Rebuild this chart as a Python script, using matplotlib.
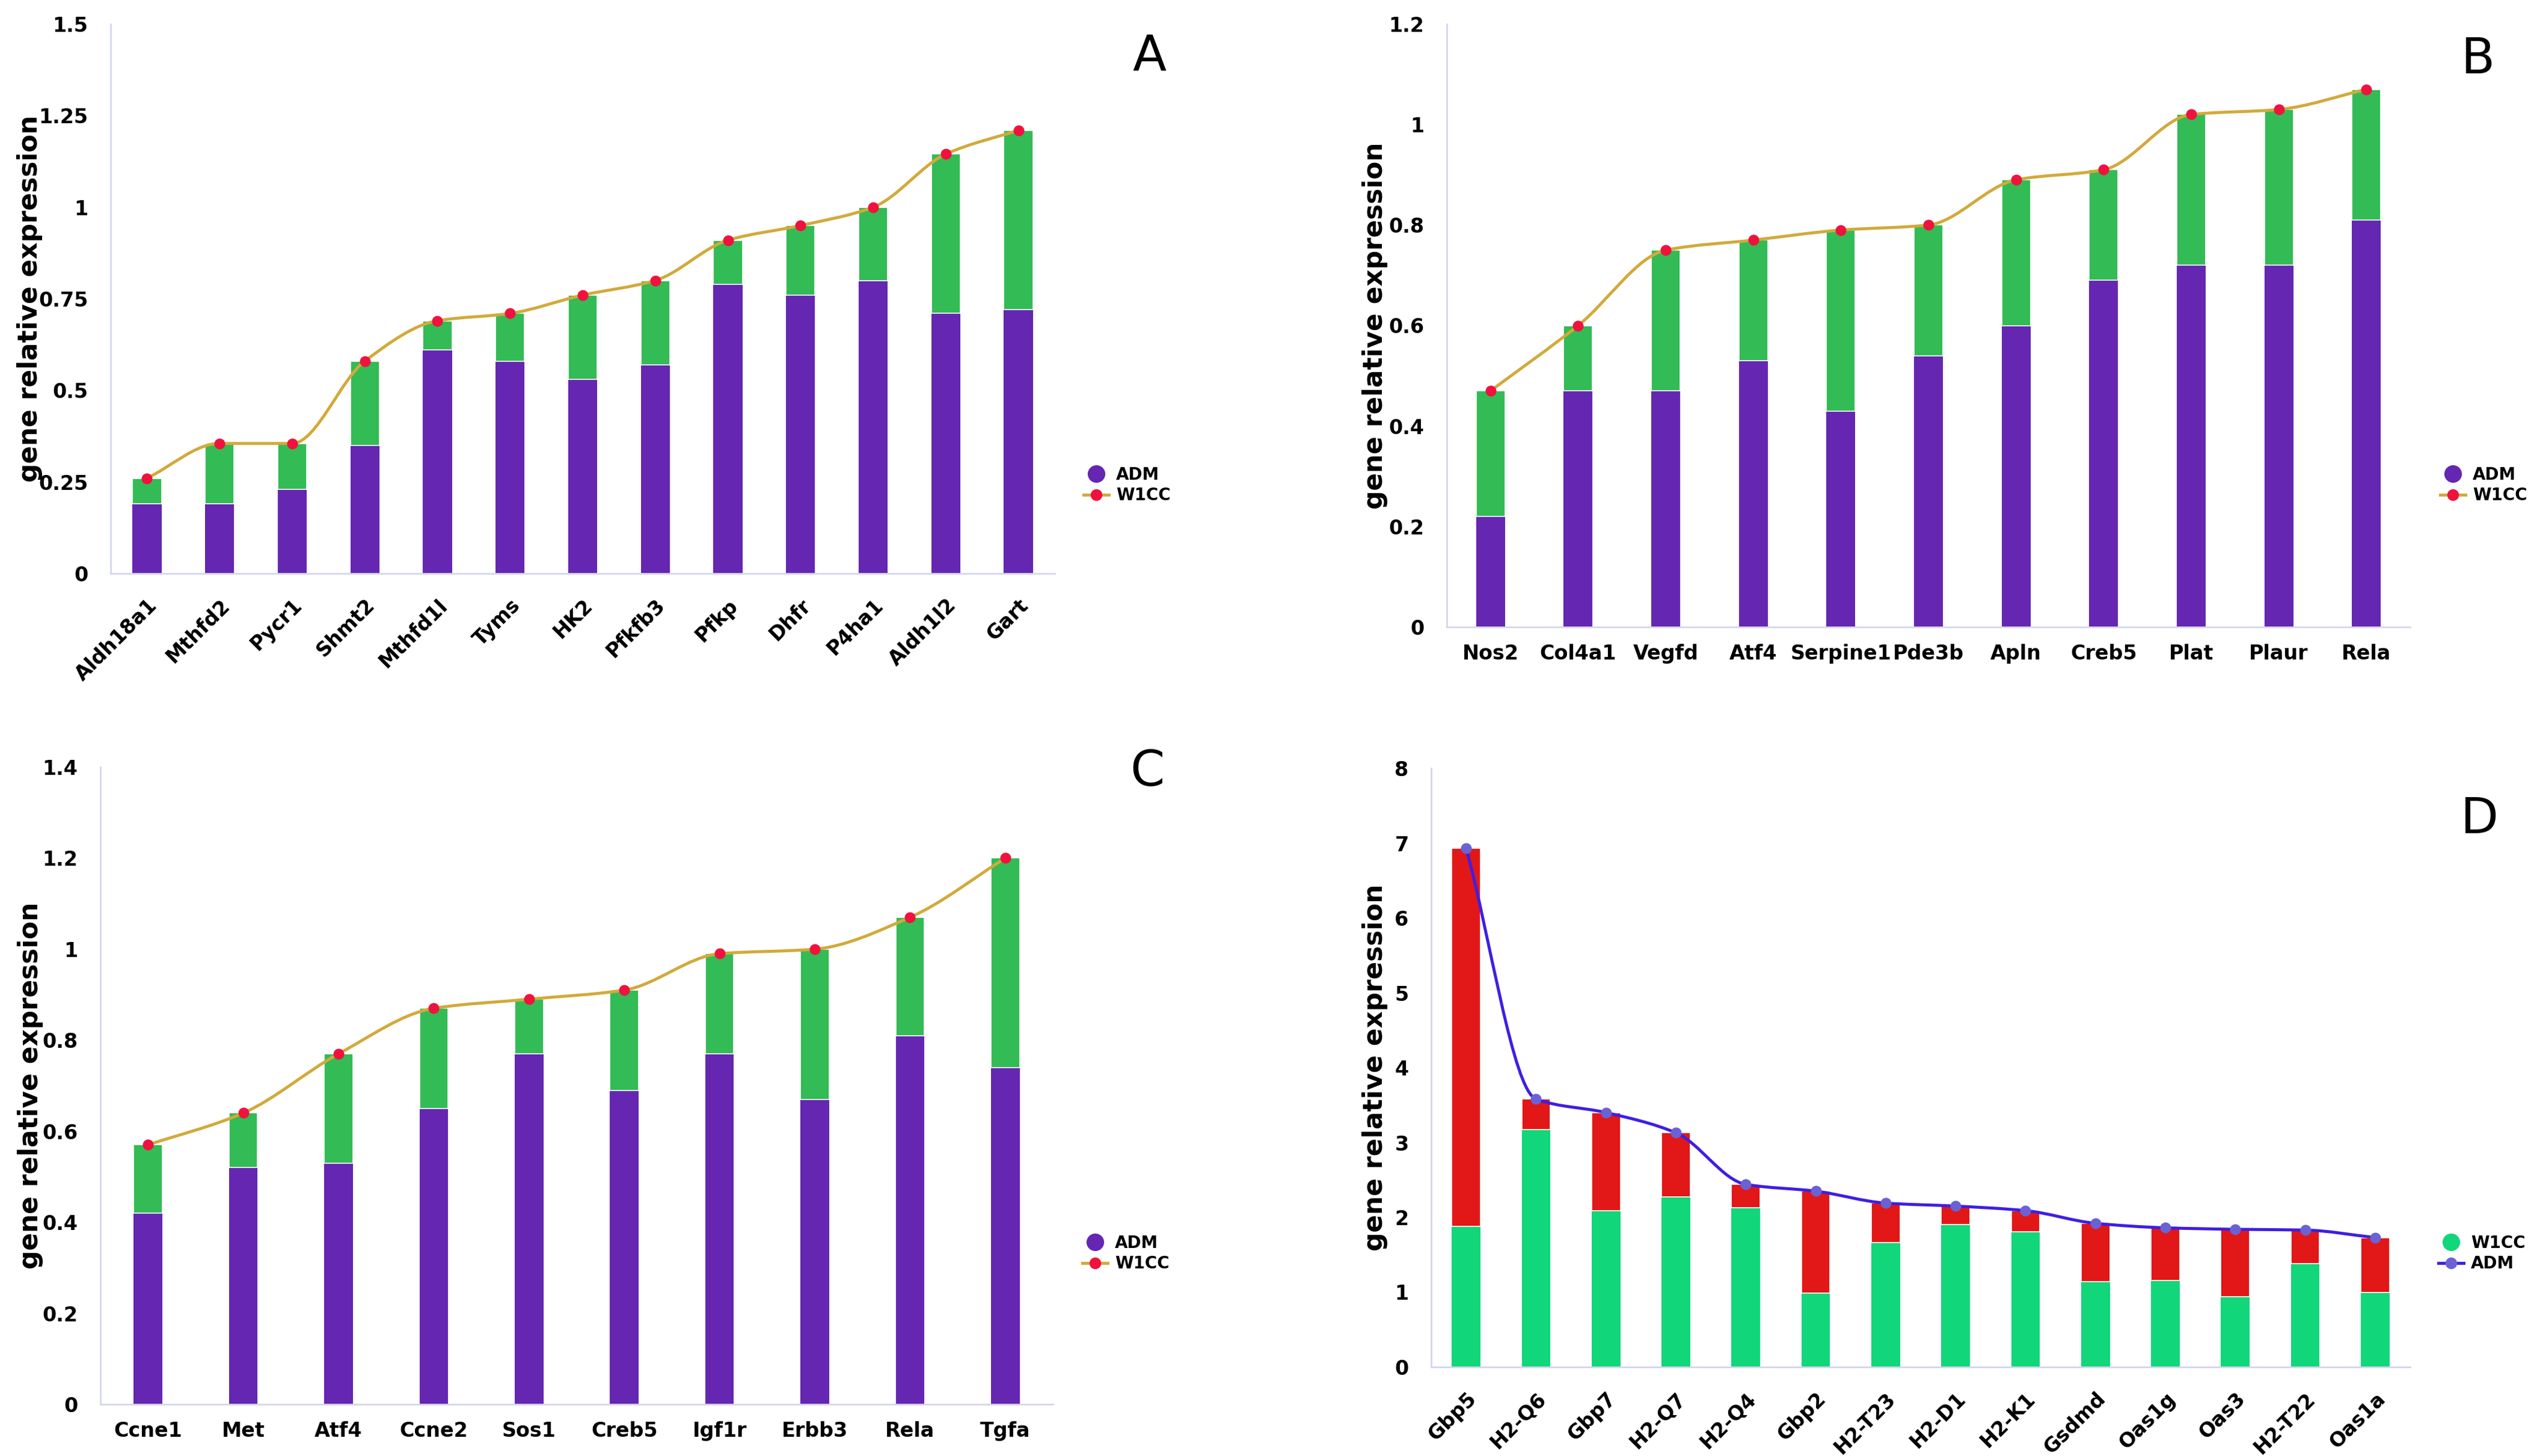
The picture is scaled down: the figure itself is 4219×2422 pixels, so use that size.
import numpy as np
import matplotlib
matplotlib.use('Agg')
import matplotlib.pyplot as plt
from matplotlib.path import Path
from matplotlib.patches import PathPatch
from matplotlib.lines import Line2D

plt.rcParams['font.family'] = 'DejaVu Sans'
plt.rcParams['font.weight'] = 'bold'

W, H = 4219, 2422

# panel A
genes_a = ['Aldh18a1', 'Mthfd2', 'Pycr1', 'Shmt2', 'Mthfd1l', 'Tyms', 'HK2',
           'Pfkfb3', 'Pfkp', 'Dhfr', 'P4ha1', 'Aldh1l2', 'Gart']
adm_a = [0.19, 0.19, 0.23, 0.35, 0.61, 0.58, 0.53, 0.57, 0.79, 0.76, 0.80, 0.71, 0.72]
w1cc_a = [0.26, 0.355, 0.355, 0.58, 0.69, 0.71, 0.76, 0.80, 0.91, 0.95, 1.0, 1.145, 1.21]
yticks_a = [0, 0.25, 0.5, 0.75, 1, 1.25, 1.5]

# panel B
genes_b = ['Nos2', 'Col4a1', 'Vegfd', 'Atf4', 'Serpine1', 'Pde3b', 'Apln',
           'Creb5', 'Plat', 'Plaur', 'Rela']
adm_b = [0.22, 0.47, 0.47, 0.53, 0.43, 0.54, 0.60, 0.69, 0.72, 0.72, 0.81]
w1cc_b = [0.47, 0.60, 0.75, 0.77, 0.79, 0.80, 0.89, 0.91, 1.02, 1.03, 1.07]
yticks_b = [0, 0.2, 0.4, 0.6, 0.8, 1, 1.2]

# panel C
genes_c = ['Ccne1', 'Met', 'Atf4', 'Ccne2', 'Sos1', 'Creb5', 'Igf1r', 'Erbb3', 'Rela', 'Tgfa']
adm_c = [0.42, 0.52, 0.53, 0.65, 0.77, 0.69, 0.77, 0.67, 0.81, 0.74]
w1cc_c = [0.57, 0.64, 0.77, 0.87, 0.89, 0.91, 0.99, 1.0, 1.07, 1.2]
yticks_c = [0, 0.2, 0.4, 0.6, 0.8, 1, 1.2, 1.4]

# panel D (here the bars are W1CC and the line is ADM)
genes_d = ['Gbp5', 'H2-Q6', 'Gbp7', 'H2-Q7', 'H2-Q4', 'Gbp2', 'H2-T23', 'H2-D1',
           'H2-K1', 'Gsdmd', 'Oas1g', 'Oas3', 'H2-T22', 'Oas1a']
w1cc_d = [1.88, 3.17, 2.09, 2.27, 2.13, 0.99, 1.66, 1.90, 1.81, 1.14, 1.16, 0.94, 1.38, 1.0]
adm_d = [6.93, 3.58, 3.40, 3.13, 2.44, 2.35, 2.19, 2.15, 2.09, 1.92, 1.86, 1.84, 1.83, 1.73]
yticks_d = [0, 1, 2, 3, 4, 5, 6, 7, 8]

PURPLE = '#6526b1'
GREEN = '#33bb55'
GOLD = '#d2aa3a'
RED_DOT = '#f0123e'
MINT = '#12d67a'
RED = '#e21717'
BLUE = '#3d1fe4'
SLATE = '#6a62d4'
SPINE = '#d4d6ee'


def smooth_path(x, y):
    # monotone cubic (like the smoothed line in the original)
    x = np.asarray(x, float)
    y = np.asarray(y, float)
    d = np.diff(y)
    m = np.zeros_like(y)
    m[0], m[-1] = d[0], d[-1]
    for k in range(1, len(y) - 1):
        if d[k - 1] * d[k] > 0:
            m[k] = 2 * d[k - 1] * d[k] / (d[k - 1] + d[k])
    verts = [(x[0], y[0])]
    codes = [Path.MOVETO]
    for i in range(len(x) - 1):
        h = x[i + 1] - x[i]
        verts += [(x[i] + h / 3, y[i] + m[i] * h / 3),
                  (x[i + 1] - h / 3, y[i + 1] - m[i + 1] * h / 3),
                  (x[i + 1], y[i + 1])]
        codes += [Path.CURVE4] * 3
    return Path(verts, codes)


def axes_px(l, t, r, b):
    return fig.add_axes([l / W, 1 - b / H, (r - l) / W, (b - t) / H])


def panel(ax, genes, base, total, yticks, width, c_base, c_top, c_line, c_dot,
          rotate, ylab_x, letter, letter_xy, leg_xy, leg_names):
    x = np.arange(len(genes))
    top = np.array(total) - np.array(base)
    ax.bar(x, base, width, color=c_base, linewidth=0)
    ax.bar(x, top, width, bottom=base, color=c_top, edgecolor='white', linewidth=1.2)
    ax.add_patch(PathPatch(smooth_path(x, total), fill=False, edgecolor=c_line,
                           linewidth=3.6, zorder=3))
    ax.plot(x, total, 'o', color=c_dot, markersize=13, markeredgewidth=0, zorder=4)

    ax.set_xlim(-0.5, len(genes) - 0.5)
    ax.set_ylim(0, yticks[-1])
    ax.set_yticks(yticks)
    ax.set_yticklabels(['%g' % v for v in yticks], fontsize=24, fontweight='bold')
    ax.set_xticks(x)
    if rotate:
        ax.set_xticklabels(genes, fontsize=24, fontweight='bold', rotation=45,
                           ha='right', va='top', rotation_mode='anchor')
        ax.tick_params(axis='x', length=0, pad=26)
    else:
        ax.set_xticklabels(genes, fontsize=24, fontweight='bold')
        ax.tick_params(axis='x', length=0, pad=20)
    ax.tick_params(axis='y', length=0, pad=27)
    for s in ['top', 'right']:
        ax.spines[s].set_visible(False)
    for s in ['left', 'bottom']:
        ax.spines[s].set_color(SPINE)
        ax.spines[s].set_linewidth(2)

    bb = ax.get_position()
    fig.text(ylab_x / W, bb.y0 + bb.height / 2, 'gene relative expression',
             rotation=90, ha='center', va='center', fontsize=31.5, fontweight='bold')
    fig.text(letter_xy[0] / W, 1 - letter_xy[1] / H, letter, ha='center', va='center',
             fontsize=59, fontweight='normal')

    handles = [Line2D([], [], linestyle='none', marker='o', color=c_base,
                      markersize=21, markeredgewidth=0, label=leg_names[0]),
               Line2D([], [], color=c_line, linewidth=3.6, marker='o',
                      markerfacecolor=c_dot, markeredgewidth=0, markersize=14,
                      label=leg_names[1])]
    ax.legend(handles=handles, loc='center left', frameon=False,
              bbox_to_anchor=((leg_xy[0] - 21) / W, 1 - leg_xy[1] / H),
              bbox_transform=fig.transFigure, prop={'size': 20, 'weight': 'bold'},
              borderpad=0, borderaxespad=0, handlelength=1.5, handletextpad=0.45,
              labelspacing=0.25)


fig = plt.figure(figsize=(W / 100, H / 100), dpi=100)

ax_a = axes_px(184, 40, 1754, 954)
panel(ax_a, genes_a, adm_a, w1cc_a, yticks_a, 0.40, PURPLE, GREEN, GOLD, RED_DOT,
      True, 50, 'A', (1911, 95), (1823, 807), ['ADM', 'W1CC'])

ax_b = axes_px(2406, 40, 4008, 1043)
panel(ax_b, genes_b, adm_b, w1cc_b, yticks_b, 0.33, PURPLE, GREEN, GOLD, RED_DOT,
      False, 2287, 'B', (4121, 99), (4079, 807), ['ADM', 'W1CC'])

ax_c = axes_px(167, 1276, 1751, 2336)
panel(ax_c, genes_c, adm_c, w1cc_c, yticks_c, 0.30, PURPLE, GREEN, GOLD, RED_DOT,
      False, 51, 'C', (1908, 1284), (1821, 2085), ['ADM', 'W1CC'])

ax_d = axes_px(2380, 1278, 4008, 2274)
panel(ax_d, genes_d, w1cc_d, adm_d, yticks_d, 0.41, MINT, RED, BLUE, SLATE,
      True, 2287, 'D', (4124, 1364), (4076, 2085), ['W1CC', 'ADM'])

fig.savefig('out.png', dpi=100)
